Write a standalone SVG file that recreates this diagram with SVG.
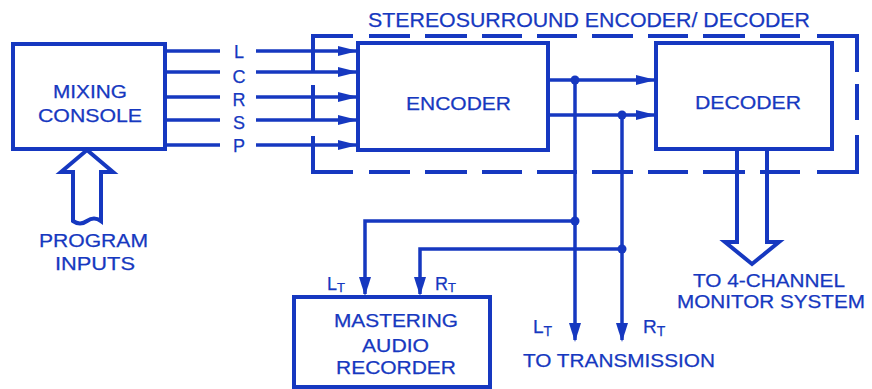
<svg xmlns="http://www.w3.org/2000/svg" width="872" height="389" viewBox="0 0 872 389">
<style>
.box{fill:none;stroke:#1638c0;stroke-width:4}
.ln{fill:none;stroke:#1638c0;stroke-width:3.5}
.dash{fill:none;stroke:#1638c0;stroke-width:4}
.t{font-family:"Liberation Sans",Arial,sans-serif;fill:#1638c0;stroke:#1638c0;stroke-width:0.25;font-size:18px}
.dot{fill:#1638c0}
</style>
<defs>
<marker id="ah" markerUnits="userSpaceOnUse" markerWidth="21" markerHeight="11" refX="18" refY="5" orient="auto"><path d="M0,0 L20,5 L0,10 z" fill="#1638c0"/></marker>
<marker id="ahb" markerUnits="userSpaceOnUse" markerWidth="21" markerHeight="13" refX="17" refY="6" orient="auto"><path d="M0,0 L19,6 L0,12 z" fill="#1638c0"/></marker>
</defs>
<rect width="872" height="389" fill="#fff"/>

<g id="enclosure">
<path class="dash" d="M353,36 H313 V72 M313,85 V120 M313,136 V172 H353 M369,36 H410 M425,36 H467 M482,36 H522 M537,36 H577 M592,36 H633 M648,36 H688 M703,36 H745 M760,36 H800 M817,36 H857 V72 M857,84 V120 M857,135 V172 H817 M369,172 H410 M425,172 H467 M482,172 H522 M537,172 H577 M592,172 H633 M648,172 H688 M703,172 H745 M760,172 H800"/>
<text class="t" x="368" y="27" textLength="442" lengthAdjust="spacingAndGlyphs" style="font-size:20px">STEREOSURROUND ENCODER/ DECODER</text>
</g>

<g id="mixing-console">
<rect class="box" x="13" y="44" width="152" height="105"/>
<text class="t" x="53" y="98" textLength="74" lengthAdjust="spacingAndGlyphs">MIXING</text>
<text class="t" x="38" y="122" textLength="104" lengthAdjust="spacingAndGlyphs">CONSOLE</text>
</g>

<g id="program-inputs">
<path class="box" d="M87,150 L113,172 H101 V221 Q94,216 87,221 T73,221 V172 H61 Z" fill="#fff"/>
<text class="t" x="39" y="247" textLength="109" lengthAdjust="spacingAndGlyphs">PROGRAM</text>
<text class="t" x="55" y="270" textLength="80" lengthAdjust="spacingAndGlyphs">INPUTS</text>
</g>

<g id="encoder">
<rect class="box" x="358" y="43" width="190" height="107"/>
<text class="t" x="406" y="110" textLength="105" lengthAdjust="spacingAndGlyphs">ENCODER</text>
</g>

<g id="decoder">
<rect class="box" x="656" y="43" width="176" height="106"/>
<text class="t" x="695" y="109" textLength="106" lengthAdjust="spacingAndGlyphs">DECODER</text>
</g>

<g id="monitor">
<path class="box" d="M737,149 V242 H725 L752,264 L779,242 H767 V149"/>
<text class="t" x="693" y="287" textLength="152" lengthAdjust="spacingAndGlyphs">TO 4-CHANNEL</text>
<text class="t" x="677" y="308" textLength="188" lengthAdjust="spacingAndGlyphs">MONITOR SYSTEM</text>
</g>

<g id="recorder">
<rect class="box" x="294" y="297" width="196" height="90"/>
<text class="t" x="334" y="327" textLength="124" lengthAdjust="spacingAndGlyphs">MASTERING</text>
<text class="t" x="362" y="352" textLength="67" lengthAdjust="spacingAndGlyphs">AUDIO</text>
<text class="t" x="336" y="374" textLength="120" lengthAdjust="spacingAndGlyphs">RECORDER</text>
<text class="t" x="327" y="290" style="font-size:18px">L<tspan dy="2" style="font-size:13px">T</tspan></text>
<text class="t" x="435" y="290" style="font-size:18px">R<tspan dy="2" style="font-size:13px">T</tspan></text>
</g>

<g id="transmission">
<text class="t" x="523" y="367" textLength="192" lengthAdjust="spacingAndGlyphs" style="font-size:19px">TO TRANSMISSION</text>
<text class="t" x="533" y="333" style="font-size:19px">L<tspan dy="3" style="font-size:14px">T</tspan></text>
<text class="t" x="643" y="333" style="font-size:19px">R<tspan dy="3" style="font-size:14px">T</tspan></text>
</g>

<g id="channel-labels">
<text class="t" x="239" y="58" text-anchor="middle">L</text>
<text class="t" x="239" y="83" text-anchor="middle">C</text>
<text class="t" x="239" y="106" text-anchor="middle">R</text>
<text class="t" x="239" y="129" text-anchor="middle">S</text>
<text class="t" x="239" y="152" text-anchor="middle">P</text>
</g>

<g id="connectors">
<path class="ln" d="M165,51 H220 M165,72 H220 M165,97 H220 M165,120 H220 M165,145 H220"/>
<path class="ln" d="M256,51 H356" marker-end="url(#ah)"/>
<path class="ln" d="M256,72 H356" marker-end="url(#ah)"/>
<path class="ln" d="M256,97 H356" marker-end="url(#ah)"/>
<path class="ln" d="M256,120 H356" marker-end="url(#ah)"/>
<path class="ln" d="M256,145 H356" marker-end="url(#ah)"/>
<path class="ln" d="M548,80 H654" marker-end="url(#ah)"/>
<path class="ln" d="M548,115 H654" marker-end="url(#ah)"/>
<path class="ln" d="M575,80 V340" marker-end="url(#ahb)"/>
<path class="ln" d="M622,115 V340" marker-end="url(#ahb)"/>
<path class="ln" d="M575,221 H365 V294" marker-end="url(#ahb)"/>
<path class="ln" d="M622,249 H420 V294" marker-end="url(#ahb)"/>
<circle class="dot" cx="575" cy="80" r="4.5"/>
<circle class="dot" cx="622" cy="115" r="4.5"/>
<circle class="dot" cx="575" cy="221" r="4.5"/>
<circle class="dot" cx="622" cy="249" r="4.5"/>
</g>
</svg>
